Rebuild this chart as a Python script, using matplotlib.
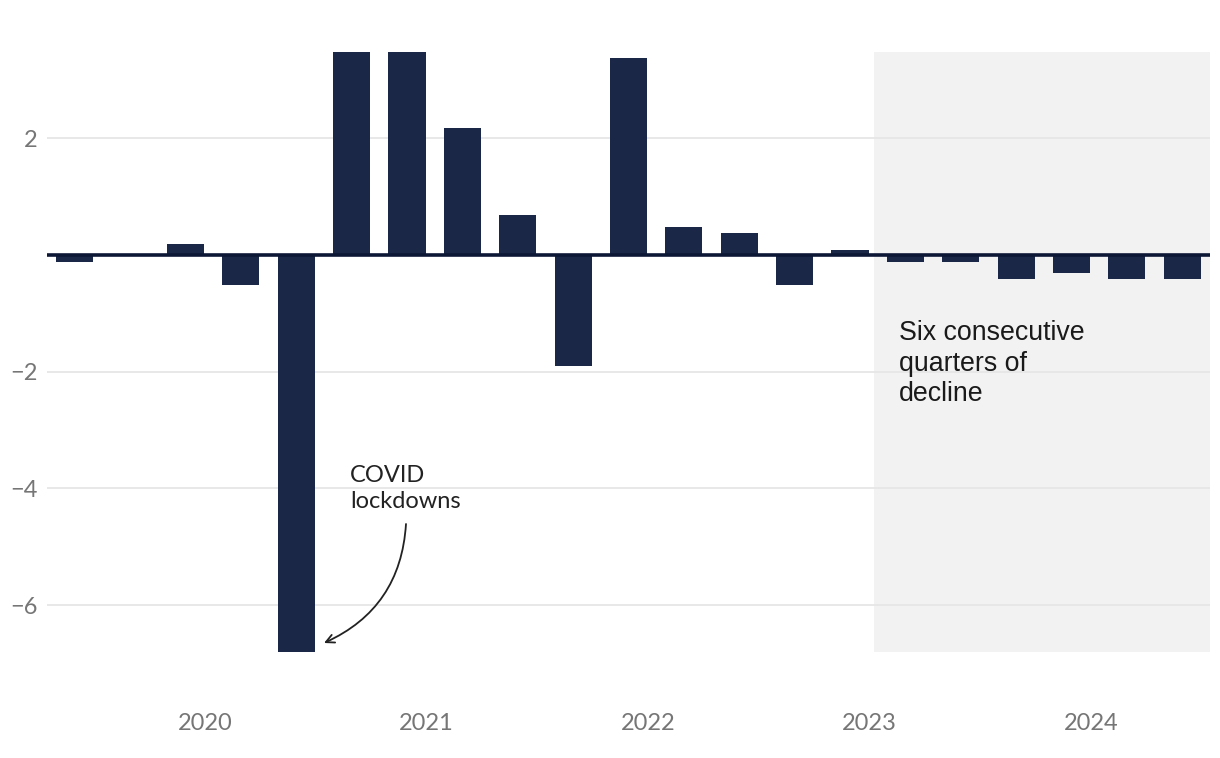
import matplotlib
matplotlib.use("Agg")
import matplotlib.pyplot as plt
import numpy as np

# Quarterly change (%); extreme bars are clipped by the axis
values = [-0.12, 0.0, 0.19, -0.51, -6.8, 3.5, 3.5, 2.18, 0.69, -1.91, 3.38,
          0.48, 0.38, -0.51, 0.09, -0.12, -0.12, -0.41, -0.30, -0.41, -0.41]
years = ["2020", "2021", "2022", "2023", "2024"]
yticks = [-6, -4, -2, 2]

BAR = "#1b2747"
ZERO = "#0c1735"
GRID = "#e6e6e6"
SHADE = "#f2f2f2"
TICK = "#767676"

fig = plt.figure(figsize=(12.2, 7.58), dpi=100)
ax = fig.add_axes([47/1220, 1-651.7/758, (1210-47)/1220, (651.7-52)/758])

x = np.arange(len(values))
ax.bar(x, values, width=0.67, color=BAR, zorder=2)
ax.set_xlim(-0.5, len(values) - 0.5)
ax.set_ylim(-6.8, 3.48)

# shaded region for the six consecutive quarters of decline
ax.axvspan(14.44, len(values) - 0.5, color=SHADE, zorder=0.1, lw=0)
ax.axhline(0, color=ZERO, lw=2.6, zorder=3)

ax.set_axisbelow(True)
ax.grid(axis="y", color=GRID, lw=1.3)
ax.grid(axis="x", visible=False)
for s in ax.spines.values():
    s.set_visible(False)

ax.set_yticks(yticks)
ax.set_yticklabels([f"\u2212{abs(t)}" if t < 0 else str(t) for t in yticks])
year_pos = [2.35 + 4 * i for i in range(len(years))]
ax.set_xticks(year_pos)
ax.set_xticklabels(years)
ax.tick_params(axis="both", length=0, labelcolor=TICK, labelsize=17)
ax.tick_params(axis="y", pad=7)
ax.tick_params(axis="x", pad=44)
for lab in ax.get_xticklabels() + ax.get_yticklabels():
    lab.set_fontfamily("Lato")

ax.text(899.3/1220, 1-401/758, "Six consecutive\nquarters of\ndecline",
        transform=fig.transFigure, ha="left", va="baseline",
        fontsize=19.3, family="Liberation Sans", color="#1a1a1a", linespacing=1.22)

ax.text(350/1220, 1-507.7/758, "COVID\nlockdowns", transform=fig.transFigure,
        ha="left", va="baseline", fontsize=17, family="Lato", color="#222222",
        linespacing=1.25)
ax.annotate("", xy=(324/1220, 1-643/758), xycoords="figure fraction",
            xytext=(406/1220, 1-524/758), textcoords="figure fraction",
            arrowprops=dict(arrowstyle="->,head_length=0.6,head_width=0.3",
                            color="#222222", lw=1.3,
                            connectionstyle="arc3,rad=-0.3",
                            shrinkA=0, shrinkB=0))

fig.savefig("out.png", dpi=100, facecolor="white")
